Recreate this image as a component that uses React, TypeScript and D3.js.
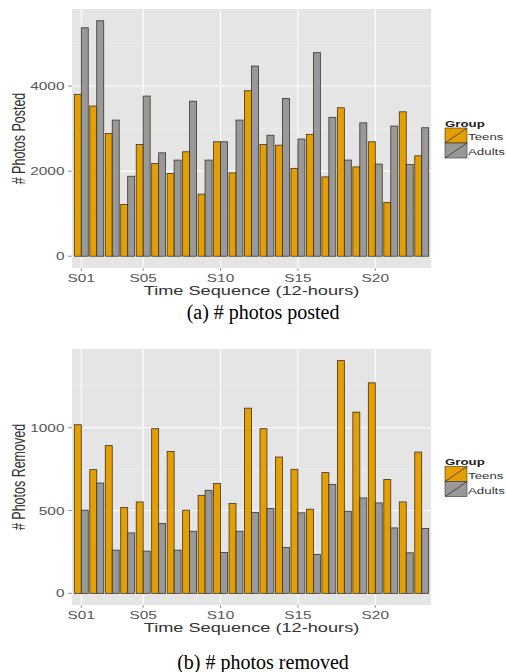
import * as d3 from "d3"
import React from "react"

// time slots (12-hour windows), only some are labelled on the axis
const slots = [
  "S01", "S02", "S03", "S04", "S05", "S06", "S07", "S08", "S09", "S10", "S11", "S12",
  "S13", "S14", "S15", "S16", "S17", "S18", "S19", "S20", "S21", "S22", "S23",
]
const slotLabels = ["S01", "S05", "S10", "S15", "S20"]
const groups = ["Teens", "Adults"]

const postedTeens = [
  3805, 3530, 2885, 1215, 2625, 2180, 1945, 2455, 1460, 2690, 1960, 3890,
  2625, 2610, 2065, 2865, 1865, 3490, 2100, 2690, 1265, 3395, 2360,
]
const postedAdults = [
  5370, 5535, 3200, 1880, 3765, 2430, 2260, 3645, 2260, 2690, 3200, 4470,
  2845, 3710, 2755, 4785, 3265, 2260, 3135, 2165, 3060, 2155, 3020,
]
const removedTeens = [
  1018, 747, 892, 518, 552, 994, 857, 502, 592, 663, 542, 1118,
  994, 823, 749, 508, 729, 1405, 1094, 1271, 687, 552, 853,
]
const removedAdults = [
  502, 666, 261, 365, 255, 422, 261, 375, 622, 247, 375, 488,
  512, 277, 486, 235, 657, 496, 576, 546, 395, 245, 392,
]

const postedTicks = [0, 2000, 4000]
const postedMinor = [1000, 3000, 5000]
const removedTicks = [0, 500, 1000]
const removedMinor = [250, 750, 1250]

const W = 506
const H = 672
const SX = 1.4 // the original figure is stretched sideways
const SANS = "'Liberation Sans', Arial, Helvetica, sans-serif"
const SERIF = "'Liberation Serif', 'Times New Roman', serif"
const colors = { Teens: "#E69F00", Adults: "#999999" }

function Txt({ x, y, size, anchor = "start", fill = "#333", weight = "normal", rot = 0, family = SANS, sx = SX, children }) {
  return (
    <text
      transform={`translate(${x},${y}) scale(${sx},1)${rot ? ` rotate(${rot})` : ""}`}
      textAnchor={anchor}
      fontSize={size}
      fontFamily={family}
      fontWeight={weight}
      fill={fill}
    >
      {children}
    </text>
  )
}

function BarPanel({ top, bottom, teens, adults, ticks, minor, yTitle, caption, captionY }) {
  const left = 72
  const right = 431
  const x = d3.scalePoint().domain(slots).range([left, right]).padding(0.6)
  const bw = x.step() * 0.45
  const max = d3.max([...teens, ...adults])
  const y = d3.scaleLinear().domain([-0.05 * max, 1.05 * max]).range([bottom, top])
  const mid = (top + bottom) / 2
  const series = [
    { key: "Teens", values: teens, dx: -bw },
    { key: "Adults", values: adults, dx: 0 },
  ]

  return (
    <g>
      <rect x={left} y={top} width={right - left} height={bottom - top} fill="#E5E5E5" />
      {minor.filter((v) => y(v) > top).map((v) => (
        <line key={"m" + v} x1={left} x2={right} y1={y(v)} y2={y(v)} stroke="#F2F2F2" strokeWidth={0.5} />
      ))}
      {ticks.map((v) => (
        <line key={"g" + v} x1={left} x2={right} y1={y(v)} y2={y(v)} stroke="#fff" strokeWidth={1.1} />
      ))}
      {slotLabels.map((s) => (
        <line key={"v" + s} x1={x(s)} x2={x(s)} y1={top} y2={bottom} stroke="#fff" strokeWidth={1.1} />
      ))}

      {series.map((sr) =>
        slots.map((s, i) => (
          <rect
            key={sr.key + s}
            x={x(s) + sr.dx}
            y={y(sr.values[i])}
            width={bw}
            height={y(0) - y(sr.values[i])}
            fill={colors[sr.key]}
            stroke="#3a3226"
            strokeWidth={0.8}
          />
        ))
      )}

      {/* y axis */}
      {ticks.map((v) => (
        <g key={"t" + v}>
          <line x1={left - 4} x2={left} y1={y(v)} y2={y(v)} stroke="#7F7F7F" strokeWidth={0.8} />
          <Txt x={64.5} y={y(v) + 4} size={11} anchor="end" fill="#555">{v}</Txt>
        </g>
      ))}
      <Txt x={25} y={mid} size={12.5} anchor="middle" rot={-90} fill="#333">{yTitle}</Txt>

      {/* x axis */}
      {slotLabels.map((s) => (
        <g key={"x" + s}>
          <line x1={x(s)} x2={x(s)} y1={bottom} y2={bottom + 3} stroke="#7F7F7F" strokeWidth={0.8} />
          <Txt x={x(s)} y={bottom + 14} size={11} anchor="middle" fill="#555">{s}</Txt>
        </g>
      ))}
      <Txt x={(left + right) / 2} y={bottom + 26.5} size={13} anchor="middle" fill="#333">
        Time Sequence (12-hours)
      </Txt>

      {/* legend */}
      <Txt x={445} y={mid - 12} size={9.5} weight="bold" fill="#222">Group</Txt>
      {groups.map((g, i) => {
        const ky = mid - 10.5 + i * 15
        return (
          <g key={g}>
            <rect x={445} y={ky} width={22} height={15} fill={colors[g]} stroke="#3a3226" strokeWidth={0.6} />
            <line x1={445} y1={ky + 15} x2={467} y2={ky} stroke="#3a3226" strokeWidth={0.8} />
            <Txt x={468} y={ky + 12} size={9.5} fill="#333">{g}</Txt>
          </g>
        )
      })}

      <Txt x={263} y={captionY} size={20} anchor="middle" family={SERIF} sx={1} fill="#000">{caption}</Txt>
    </g>
  )
}

export default function App() {
  return (
    <svg
      width={W}
      height={H}
      viewBox={`0 0 ${W} ${H}`}
      style={{ position: "absolute", left: 0, top: 0, background: "#fff", display: "block" }}
    >
      <rect width={W} height={H} fill="#fff" />
      <BarPanel
        top={9}
        bottom={268}
        teens={postedTeens}
        adults={postedAdults}
        ticks={postedTicks}
        minor={postedMinor}
        yTitle="# Photos Posted"
        caption="(a) # photos posted"
        captionY={319}
      />
      <BarPanel
        top={349}
        bottom={605}
        teens={removedTeens}
        adults={removedAdults}
        ticks={removedTicks}
        minor={removedMinor}
        yTitle="# Photos Removed"
        caption="(b) # photos removed"
        captionY={669}
      />
    </svg>
  )
}
